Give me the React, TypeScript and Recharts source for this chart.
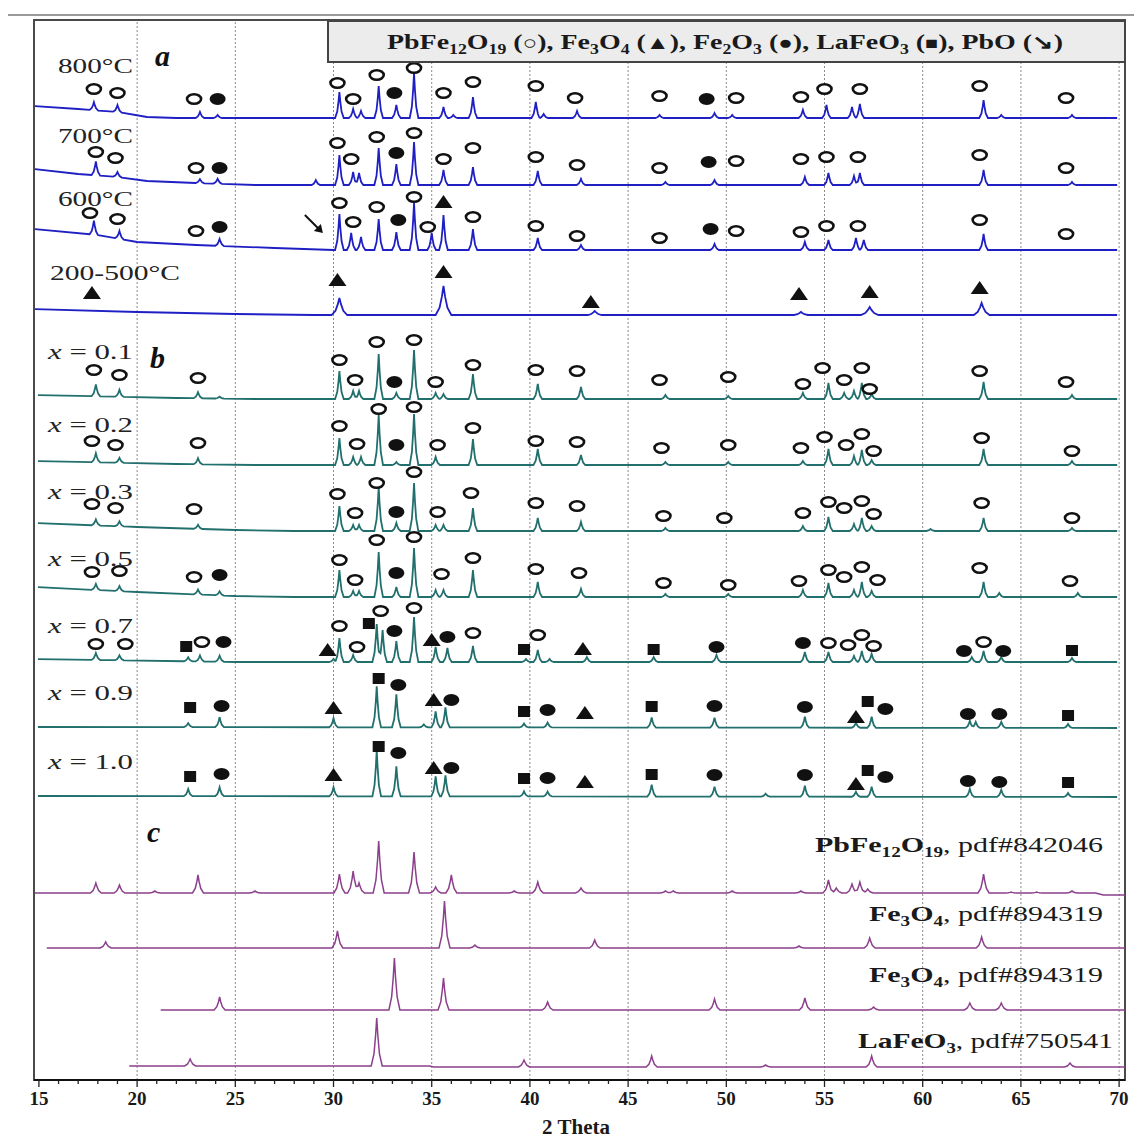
import React from 'react';
import { ComposedChart, Line, Scatter, XAxis, YAxis, ReferenceLine, ReferenceArea } from 'recharts';

const X_MIN = 14.75;
const X_MAX = 70.3;
const Y_MAX = 1060;

const majorTicks = [15, 20, 25, 30, 35, 40, 45, 50, 55, 60, 65, 70];
const gridLines = [20, 25, 30, 35, 40, 45, 50, 55, 60, 65, 70];
const allTicks = Array.from({ length: 56 }, (_, i) => 15 + i);
const rulerTicks = Array.from({ length: 177 }, (_, i) => i * 6);

const BLUE = '#1f1fc4';
const TEAL = '#22706e';
const PURPLE = '#8c3f8c';
const SERIF = "'Liberation Serif', 'Times New Roman', serif";

// peaks: [2θ, height, halfWidth?] ; background knots: [2θ, level] ; marks: [kind, 2θ, level above baseline]
// kinds: o = PbFe12O19, t = Fe3O4, f = Fe2O3, s = LaFeO3, a = PbO
const p800 = [[17.8, 8], [19.0, 7], [23.2, 6], [24.1, 3], [30.3, 26], [31.0, 9], [31.4, 7], [32.3, 32], [33.2, 13], [34.1, 45], [35.6, 11], [36.1, 3], [37.1, 21], [40.3, 16], [40.7, 4], [42.4, 7], [46.6, 3], [49.4, 5], [50.3, 3], [53.9, 8], [55.1, 13], [56.4, 11], [56.8, 14], [63.1, 18], [64.0, 3], [67.6, 3]];
const bg800 = [[14.75, 12], [17, 9], [19, 6], [20.5, 1], [22, 0], [70.3, 0]];
const m800 = [['o', 17.8, 29], ['o', 19.0, 25], ['o', 22.9, 19], ['f', 24.1, 19], ['o', 30.2, 35], ['o', 31.0, 19], ['o', 32.2, 43], ['f', 33.1, 25], ['o', 34.1, 50], ['o', 35.6, 25], ['o', 37.1, 36], ['o', 40.3, 32], ['o', 42.3, 20], ['o', 46.6, 22], ['f', 49.0, 19], ['o', 50.5, 20], ['o', 53.8, 21], ['o', 55.0, 29], ['o', 56.8, 29], ['o', 62.9, 32], ['o', 67.3, 20]];

const p700 = [[17.9, 14], [19.0, 5], [23.2, 4], [24.1, 5], [29.1, 5], [30.3, 30], [31.0, 13], [31.3, 12], [32.3, 37], [33.2, 21], [34.1, 43], [35.6, 15], [37.1, 18], [40.4, 14], [42.6, 6], [46.9, 3], [49.4, 5], [54.0, 8], [55.2, 12], [56.5, 9], [56.8, 12], [63.1, 15], [67.6, 3]];
const bg700 = [[14.75, 16], [17, 11], [19, 8], [20.5, 4], [23, 2], [26, 0], [70.3, 0]];
const m700 = [['o', 17.9, 33], ['o', 18.9, 27], ['o', 23.0, 17], ['f', 24.2, 17], ['o', 30.2, 42], ['o', 30.9, 26], ['o', 32.2, 48], ['f', 33.2, 32], ['o', 34.1, 52], ['o', 35.6, 26], ['o', 37.1, 37], ['o', 40.3, 28], ['o', 42.4, 20], ['o', 46.6, 17], ['f', 49.1, 23], ['o', 50.5, 24], ['o', 53.8, 26], ['o', 55.1, 28], ['o', 56.7, 28], ['o', 62.9, 30], ['o', 67.3, 17]];

const p600 = [[17.8, 14], [19.1, 8], [24.2, 7], [30.3, 36], [30.9, 17], [31.4, 13], [32.3, 31], [33.2, 18], [34.1, 47], [35.0, 17], [35.6, 35], [37.1, 21], [40.4, 12], [42.6, 5], [49.4, 6], [54.0, 8], [55.2, 10], [56.6, 12], [57.0, 10], [63.1, 16]];
const bg600 = [[14.75, 21], [18, 15], [20, 8], [23, 5], [27, 2], [30, 0], [70.3, 0]];
const m600 = [['o', 17.6, 37], ['o', 19.0, 31], ['o', 23.0, 19], ['f', 24.2, 23], ['a', 29.0, 26], ['o', 30.3, 47], ['o', 31.0, 28], ['o', 32.2, 43], ['f', 33.3, 30], ['o', 34.1, 53], ['o', 34.8, 23], ['t', 35.6, 48], ['o', 37.1, 33], ['o', 40.3, 24], ['o', 42.4, 14], ['o', 46.6, 12], ['f', 49.2, 21], ['o', 50.5, 19], ['o', 53.8, 18], ['o', 55.1, 24], ['o', 56.7, 24], ['o', 62.9, 30], ['o', 67.3, 16]];

const p200 = [[30.3, 17, 0.4], [35.6, 29, 0.4], [43.3, 4, 0.35], [53.8, 3, 0.35], [57.3, 8, 0.45], [63.0, 12, 0.4]];
const bg200 = [[14.75, 6], [20, 3], [25, 1], [29, 0], [70.3, 0]];
const m200 = [['t', 17.7, 22], ['t', 30.2, 35], ['t', 35.6, 43], ['t', 43.1, 13], ['t', 53.7, 21], ['t', 57.3, 23], ['t', 62.9, 27]];

const p01 = [[17.9, 12], [19.1, 7], [23.1, 6], [24.2, 2], [30.3, 28], [31.0, 8], [31.3, 8], [32.3, 45], [33.2, 6], [34.1, 49], [35.2, 6], [35.6, 5], [37.1, 25], [40.4, 15], [42.6, 12], [46.9, 4], [50.1, 3], [53.9, 6], [55.2, 16], [56.0, 6], [56.5, 8], [56.9, 16], [57.4, 5], [63.1, 17], [67.6, 4]];
const bg01 = [[14.75, 4], [22, 1], [26, 0], [70.3, 0]];
const m01 = [['o', 17.8, 29], ['o', 19.1, 24], ['o', 23.1, 21], ['o', 30.3, 39], ['o', 31.1, 19], ['o', 32.2, 57], ['f', 33.1, 17], ['o', 34.1, 59], ['o', 35.2, 17], ['o', 37.1, 34], ['o', 40.3, 29], ['o', 42.4, 28], ['o', 46.6, 19], ['o', 50.1, 22], ['o', 53.9, 15], ['o', 54.9, 31], ['o', 56.0, 19], ['o', 56.9, 31], ['o', 57.3, 10], ['o', 62.9, 28], ['o', 67.3, 17]];

const p02 = [[17.9, 9], [19.1, 5], [23.1, 6], [30.3, 27], [31.0, 8], [31.4, 8], [32.3, 50], [33.2, 3], [34.1, 51], [35.2, 8], [37.1, 26], [40.4, 16], [42.6, 10], [46.9, 3], [50.1, 3], [53.9, 4], [55.2, 16], [56.5, 9], [56.9, 15], [57.4, 5], [63.1, 16], [67.6, 4]];
const bg02 = [[14.75, 4], [22, 1], [26, 0], [70.3, 0]];
const m02 = [['o', 17.7, 24], ['o', 18.9, 20], ['o', 23.1, 22], ['o', 30.3, 39], ['o', 31.2, 21], ['o', 32.3, 56], ['f', 33.2, 20], ['o', 34.1, 58], ['o', 35.3, 20], ['o', 37.1, 37], ['o', 40.3, 24], ['o', 42.4, 23], ['o', 46.7, 17], ['o', 50.1, 20], ['o', 53.8, 17], ['o', 55.0, 28], ['o', 56.1, 20], ['o', 56.9, 31], ['o', 57.5, 14], ['o', 63.0, 27], ['o', 67.6, 14]];

const p03 = [[17.9, 6], [19.1, 5], [23.1, 4], [30.3, 25], [31.0, 6], [31.3, 6], [32.3, 44], [33.2, 8], [34.1, 48], [35.2, 6], [35.6, 6], [37.1, 23], [40.4, 13], [42.6, 9], [46.9, 3], [53.9, 5], [55.2, 14], [56.5, 7], [56.9, 13], [57.4, 5], [60.4, 2], [63.1, 13], [67.6, 3]];
const bg03 = [[14.75, 8], [20, 4], [25, 1], [28, 0], [70.3, 0]];
const m03 = [['o', 17.7, 27], ['o', 18.9, 23], ['o', 22.9, 22], ['o', 30.2, 37], ['o', 31.1, 18], ['o', 32.2, 48], ['f', 33.2, 19], ['o', 34.1, 59], ['o', 35.3, 19], ['o', 37.0, 38], ['o', 40.3, 28], ['o', 42.4, 25], ['o', 46.8, 15], ['o', 49.9, 13], ['o', 53.9, 18], ['o', 55.2, 29], ['o', 56.0, 23], ['o', 56.9, 30], ['o', 57.5, 17], ['o', 63.0, 28], ['o', 67.6, 13]];

const p05 = [[17.9, 6], [19.1, 5], [23.1, 5], [24.2, 4], [30.3, 27], [31.0, 6], [31.3, 6], [32.3, 45], [33.2, 10], [34.1, 49], [35.2, 7], [35.6, 7], [37.1, 27], [40.4, 15], [42.6, 8], [46.9, 3], [50.1, 3], [53.9, 7], [55.2, 14], [56.5, 7], [56.9, 15], [57.4, 6], [63.1, 15], [63.9, 4], [67.9, 4]];
const bg05 = [[14.75, 10], [20, 5], [25, 1], [28, 0], [70.3, 0]];
const m05 = [['o', 17.7, 25], ['o', 19.1, 26], ['o', 22.9, 20], ['f', 24.2, 22], ['o', 30.3, 37], ['o', 31.1, 17], ['o', 32.2, 57], ['f', 33.2, 24], ['o', 34.1, 60], ['o', 35.5, 23], ['o', 37.1, 39], ['o', 40.3, 28], ['o', 42.5, 24], ['o', 46.8, 14], ['o', 50.1, 12], ['o', 53.7, 16], ['o', 55.2, 27], ['o', 56.0, 20], ['o', 56.9, 30], ['o', 57.7, 17], ['o', 62.9, 29], ['o', 67.5, 16]];

const p07 = [[17.9, 7], [19.1, 5], [22.6, 4], [23.2, 6], [24.2, 6], [30.0, 3], [30.3, 24], [31.0, 7], [32.2, 38], [32.5, 32], [33.2, 21], [34.1, 45], [35.2, 15], [35.8, 14], [37.1, 16], [39.8, 3], [40.4, 12], [41.0, 3], [42.9, 5], [46.3, 5], [49.5, 7], [54.0, 10], [55.2, 10], [56.5, 6], [56.9, 11], [57.4, 8], [62.5, 5], [63.1, 11], [64.0, 5], [67.6, 4]];
const bg07 = [[14.75, 3], [25, 0], [70.3, 0]];
const m07 = [['o', 17.9, 18], ['o', 19.4, 18], ['s', 22.5, 15], ['o', 23.3, 20], ['f', 24.4, 20], ['t', 29.7, 12], ['o', 30.3, 36], ['o', 31.2, 15], ['s', 31.8, 38], ['o', 32.4, 51], ['f', 33.1, 31], ['o', 34.1, 54], ['t', 35.0, 22], ['f', 35.8, 25], ['o', 37.1, 29], ['s', 39.7, 12], ['o', 40.4, 27], ['t', 42.7, 13], ['s', 46.3, 12], ['f', 49.5, 15], ['f', 53.9, 19], ['o', 55.2, 19], ['o', 56.2, 17], ['o', 56.9, 27], ['o', 57.5, 16], ['f', 62.1, 11], ['o', 63.1, 20], ['f', 64.1, 11], ['s', 67.6, 11]];

const p09 = [[22.6, 4], [24.2, 10], [30.0, 9], [32.2, 41], [33.2, 33], [34.6, 3], [35.2, 16], [35.7, 20], [39.7, 4], [40.9, 5], [46.2, 10], [49.4, 10], [54.0, 11], [56.6, 5], [57.4, 11], [62.4, 7], [62.7, 6], [64.0, 6], [67.4, 4]];
const bg09 = [[14.75, 1], [70.3, 0]];
const m09 = [['s', 22.7, 20], ['f', 24.3, 22], ['t', 30.0, 20], ['s', 32.3, 49], ['f', 33.3, 43], ['t', 35.1, 28], ['f', 36.0, 28], ['s', 39.7, 16], ['f', 40.9, 18], ['t', 42.8, 15], ['s', 46.2, 21], ['f', 49.4, 22], ['f', 54.0, 21], ['t', 56.6, 11], ['s', 57.2, 26], ['f', 58.1, 19], ['f', 62.3, 14], ['f', 63.9, 14], ['s', 67.4, 12]];

const p10 = [[22.6, 7], [24.2, 9], [30.0, 9], [32.2, 46], [33.2, 30], [35.2, 20], [35.7, 21], [39.7, 5], [40.9, 5], [46.2, 12], [49.4, 10], [52.0, 3], [54.0, 11], [56.6, 5], [57.4, 10], [62.4, 8], [64.0, 7], [67.4, 4]];
const bg10 = [[14.75, 1], [70.3, 0]];
const m10 = [['s', 22.7, 20], ['f', 24.3, 23], ['t', 30.0, 22], ['s', 32.3, 50], ['f', 33.3, 44], ['t', 35.1, 29], ['f', 36.0, 29], ['s', 39.7, 18], ['f', 40.9, 19], ['t', 42.8, 15], ['s', 46.2, 22], ['f', 49.4, 22], ['f', 54.0, 22], ['t', 56.6, 13], ['s', 57.2, 26], ['f', 58.1, 20], ['f', 62.3, 16], ['f', 63.9, 15], ['s', 67.4, 14]];

// reference patterns
const pPbFe = [[17.9, 10], [19.1, 8], [20.9, 2], [23.1, 18], [26.0, 2], [30.3, 19], [31.0, 22], [31.3, 10], [32.3, 52], [34.1, 41], [35.2, 6], [36.0, 18], [39.2, 2], [40.4, 11], [42.6, 5], [46.9, 2], [47.3, 2], [50.3, 2], [53.8, 2], [55.2, 13], [55.6, 5], [56.4, 9], [56.8, 11], [57.2, 4], [63.1, 19], [64.5, 1], [65.8, 1], [67.6, 2]];
const bgPbFe = [[14.75, 0], [68.8, 0], [69.2, -2], [70.3, -2]];
const pFe3O4 = [[18.4, 6], [30.2, 17], [35.65, 47], [37.2, 3], [43.3, 8], [53.7, 2], [57.3, 10], [63.0, 11]];
const bgFe3O4 = [[15.4, 0], [70.3, 0]];
const pFe2O3 = [[24.2, 13], [33.1, 52], [35.6, 32], [40.9, 8], [49.4, 11], [54.0, 12], [57.5, 3], [62.4, 7], [64.0, 7]];
const bgFe2O3 = [[21.2, 0], [70.3, 0]];
const pLaFeO3 = [[22.7, 7], [32.2, 48], [39.7, 7], [46.2, 11], [52.0, 2], [57.4, 11], [67.5, 4]];
const bgLaFeO3 = [[19.6, 0], [34.9, 0], [35.1, -1], [70.3, -1]];

const tempLabels = ['800°C', '700°C', '600°C', '200-500°C'];
const xLabels = ['0.1', '0.2', '0.3', '0.5', '0.7', '0.9', '1.0'];
const pdfLabels = ['842046', '894319', '894319', '750541'];

function bgAt(bg: number[][], x: number) {
  for (let i = 0; i < bg.length - 1; i++) {
    const [x0, y0] = bg[i];
    const [x1, y1] = bg[i + 1];
    if (x >= x0 && x <= x1) return y0 + ((y1 - y0) * (x - x0)) / (x1 - x0);
  }
  return bg[bg.length - 1][1];
}

function peakAt(peaks: number[][], x: number, w0: number) {
  let s = 0;
  for (const [c, h, w = w0] of peaks) {
    const d = Math.abs(x - c) / w;
    if (d < 1) s += h * (1 - d) * (1 - d);
  }
  return s;
}

function trace(from: number, to: number, off: number, bg: number[][], peaks: number[][], w0: number) {
  const xs = [from, to, ...bg.map((b) => b[0])];
  peaks.forEach(([c, , w = w0]) => xs.push(c - w, c - w * 0.5, c - w * 0.2, c, c + w * 0.2, c + w * 0.5, c + w));
  const sorted = Array.from(new Set(xs.filter((x) => x >= from && x <= to))).sort((a, b) => a - b);
  return sorted.map((x) => ({ x, y: off + bgAt(bg, x) + peakAt(peaks, x, w0) }));
}

const series = [
  { key: 's800', color: BLUE, from: 14.8, to: 69.9, off: 962, bg: bg800, peaks: p800, marks: m800, w: 0.22 },
  { key: 's700', color: BLUE, from: 14.8, to: 69.9, off: 895, bg: bg700, peaks: p700, marks: m700, w: 0.22 },
  { key: 's600', color: BLUE, from: 14.8, to: 69.9, off: 830, bg: bg600, peaks: p600, marks: m600, w: 0.22 },
  { key: 's200', color: BLUE, from: 14.8, to: 69.9, off: 765, bg: bg200, peaks: p200, marks: m200, w: 0.3 },
  { key: 'x01', color: TEAL, from: 14.95, to: 69.9, off: 681, bg: bg01, peaks: p01, marks: m01, w: 0.22 },
  { key: 'x02', color: TEAL, from: 14.95, to: 69.9, off: 615, bg: bg02, peaks: p02, marks: m02, w: 0.22 },
  { key: 'x03', color: TEAL, from: 14.95, to: 69.9, off: 549, bg: bg03, peaks: p03, marks: m03, w: 0.22 },
  { key: 'x05', color: TEAL, from: 14.95, to: 69.9, off: 483, bg: bg05, peaks: p05, marks: m05, w: 0.22 },
  { key: 'x07', color: TEAL, from: 14.95, to: 69.9, off: 418, bg: bg07, peaks: p07, marks: m07, w: 0.22 },
  { key: 'x09', color: TEAL, from: 14.95, to: 69.9, off: 352, bg: bg09, peaks: p09, marks: m09, w: 0.22 },
  { key: 'x10', color: TEAL, from: 14.95, to: 69.9, off: 283, bg: bg10, peaks: p10, marks: m10, w: 0.22 },
  { key: 'rPb', color: PURPLE, from: 14.8, to: 70.3, off: 187, bg: bgPbFe, peaks: pPbFe, marks: [], w: 0.28 },
  { key: 'rFe3', color: PURPLE, from: 15.4, to: 70.3, off: 132, bg: bgFe3O4, peaks: pFe3O4, marks: [], w: 0.28 },
  { key: 'rFe2', color: PURPLE, from: 21.2, to: 70.3, off: 70, bg: bgFe2O3, peaks: pFe2O3, marks: [], w: 0.28 },
  { key: 'rLa', color: PURPLE, from: 19.6, to: 70.3, off: 14, bg: bgLaFeO3, peaks: pLaFeO3, marks: [], w: 0.28 },
].map((s) => ({ ...s, data: trace(s.from, s.to, s.off, s.bg, s.peaks as number[][], s.w) }));

const markerData = series.flatMap((s) =>
  (s.marks as any[]).map(([k, x, lvl]) => ({ x, y: s.off + lvl, k }))
);

const renderMarker = (props: any) => {
  const { cx, cy, payload } = props;
  if (cx == null || cy == null) return <g />;
  const k = payload.k;
  if (k === 'o')
    return <ellipse cx={cx} cy={cy} rx={7} ry={4.8} fill="#fff" stroke="#111" strokeWidth={2.6} />;
  if (k === 'f') return <ellipse cx={cx} cy={cy} rx={8} ry={6} fill="#111" />;
  if (k === 't')
    return <polygon points={`${cx},${cy - 7} ${cx + 9},${cy + 6} ${cx - 9},${cy + 6}`} fill="#111" />;
  if (k === 's') return <rect x={cx - 6} y={cy - 6} width={12} height={11} fill="#111" />;
  return (
    <g>
      <line x1={cx - 9} y1={cy - 9} x2={cx + 4} y2={cy + 4} stroke="#111" strokeWidth={2} />
      <polygon points={`${cx + 9},${cy + 9} ${cx},${cy + 7} ${cx + 7},${cy}`} fill="#111" />
    </g>
  );
};

const AxisTick = (props: any) => {
  const { x, y, payload } = props;
  const v = payload.value;
  const major = v % 5 === 0;
  return (
    <g>
      <line x1={x} x2={x} y1={y} y2={y + (major ? 7 : 4)} stroke="#222" strokeWidth={1.3} />
      {major && (
        <text x={x} y={y + 25} textAnchor="middle" fontFamily={SERIF} fontWeight="bold" fontSize={19} fill="#1a1a1a">
          {v}
        </text>
      )}
    </g>
  );
};

// segment: [text, subscript?, bold?, fontSize?]
type Seg = [string, boolean?, boolean?, number?];
function rich(segs: Seg[]) {
  let prevSub = false;
  return segs.map(([t, sub = false, bold, size], i) => {
    const dy = sub && !prevSub ? 5 : !sub && prevSub ? -5 : 0;
    prevSub = sub;
    return (
      <tspan key={i} dy={dy || undefined} fontSize={sub ? 14 : size} fontWeight={bold ? 'bold' : undefined}>
        {t}
      </tspan>
    );
  });
}

const legendSegs: Seg[] = [
  ['PbFe'], ['12', true], ['O'], ['19', true], [' ('], ['○', false, true, 19], ['), Fe'], ['3', true], ['O'], ['4', true],
  [' ('], ['▲', false, false, 19], ['), Fe'], ['2', true], ['O'], ['3', true], [' ('], ['●', false, false, 19],
  ['), LaFeO'], ['3', true], [' ('], ['■', false, false, 17], ['), PbO ('], ['↘', false, true, 20], [')'],
];

export default function App() {
  const tempY = [73, 143, 206, 280];
  const xY = [359, 432, 499, 566, 633, 700, 769];
  return (
    <div style={{ position: 'relative', width: 1134, height: 1130 }}>
      <ComposedChart width={1134} height={1130} margin={{ top: 12, right: 17, bottom: 0, left: 26 }}>
        <XAxis
          dataKey="x"
          type="number"
          domain={[X_MIN, X_MAX]}
          allowDataOverflow
          ticks={allTicks}
          interval={0}
          tick={<AxisTick />}
          tickLine={false}
          tickSize={0}
          tickMargin={0}
          height={58}
          axisLine={{ stroke: '#111', strokeWidth: 2 }}
        />
        <YAxis
          type="number"
          domain={[0, Y_MAX]}
          allowDataOverflow
          ticks={rulerTicks}
          interval={0}
          mirror
          width={0}
          tickSize={4}
          tickFormatter={() => ''}
          tickLine={{ stroke: '#b5b5b5' }}
          axisLine={{ stroke: '#9a9a9a', strokeWidth: 3 }}
        />
        {gridLines.map((g) => (
          <ReferenceLine key={g} x={g} stroke="#8a8a8a" strokeDasharray="2 2" strokeWidth={1} />
        ))}
        <ReferenceArea x1={X_MIN} x2={X_MAX} y1={0} y2={Y_MAX} fill="none" stroke="#4a4a4a" strokeWidth={2} />
        {series.map((s) => (
          <Line
            key={s.key}
            data={s.data}
            dataKey="y"
            type="linear"
            stroke={s.color}
            strokeWidth={s.color === PURPLE ? 1.5 : 1.8}
            dot={false}
            activeDot={false}
            isAnimationActive={false}
          />
        ))}
        <Scatter data={markerData} dataKey="y" shape={renderMarker} isAnimationActive={false} />
      </ComposedChart>
      <svg
        width={1142}
        height={1138}
        style={{ position: 'absolute', left: -8, top: -8, pointerEvents: 'none' }}
        fontFamily={SERIF}
      >
        <line x1={7} y1={15} x2={1142} y2={15} stroke="#9a9a9a" strokeWidth={2} />
        <rect x={328} y={21} width={797} height={41} fill="#ececec" stroke="#444" strokeWidth={2} />
        <text x={387} y={49} textLength={676} lengthAdjust="spacingAndGlyphs" fontSize={22} fontWeight="bold" fill="#1a1a1a">
          {rich(legendSegs)}
        </text>

        {tempLabels.map((t, i) => (
          <text key={t} x={i === 3 ? 50 : 58} y={tempY[i]} textLength={i === 3 ? 130 : 75} lengthAdjust="spacingAndGlyphs" fontSize={22} fill="#222">
            {t}
          </text>
        ))}
        {xLabels.map((t, i) => (
          <text key={t} x={48} y={xY[i]} textLength={85} lengthAdjust="spacingAndGlyphs" fontSize={21} fill="#222">
            <tspan fontStyle="italic">x</tspan> = {t}
          </text>
        ))}
        <text x={155} y={66} fontSize={30} fontWeight="bold" fontStyle="italic" fill="#111">a</text>
        <text x={150} y={368} fontSize={30} fontWeight="bold" fontStyle="italic" fill="#111">b</text>
        <text x={147} y={842} fontSize={30} fontWeight="bold" fontStyle="italic" fill="#111">c</text>

        <text x={1103} y={852} textAnchor="end" textLength={288} lengthAdjust="spacingAndGlyphs" fontSize={22} fill="#1a1a1a">
          {rich([['PbFe', false, true], ['12', true, true], ['O', false, true], ['19', true, true], [', pdf#' + pdfLabels[0]]])}
        </text>
        <text x={1103} y={921} textAnchor="end" textLength={234} lengthAdjust="spacingAndGlyphs" fontSize={22} fill="#1a1a1a">
          {rich([['Fe', false, true], ['3', true, true], ['O', false, true], ['4', true, true], [', pdf#' + pdfLabels[1]]])}
        </text>
        <text x={1103} y={982} textAnchor="end" textLength={234} lengthAdjust="spacingAndGlyphs" fontSize={22} fill="#1a1a1a">
          {rich([['Fe', false, true], ['3', true, true], ['O', false, true], ['4', true, true], [', pdf#' + pdfLabels[2]]])}
        </text>
        <text x={1113} y={1048} textAnchor="end" textLength={255} lengthAdjust="spacingAndGlyphs" fontSize={22} fill="#1a1a1a">
          {rich([['LaFeO', false, true], ['3', true, true], [', pdf#' + pdfLabels[3]]])}
        </text>
        <text x={576} y={1134} textAnchor="middle" textLength={68} lengthAdjust="spacingAndGlyphs" fontSize={20} fontWeight="bold" fill="#1a1a1a">
          2 Theta
        </text>
      </svg>
    </div>
  );
}
